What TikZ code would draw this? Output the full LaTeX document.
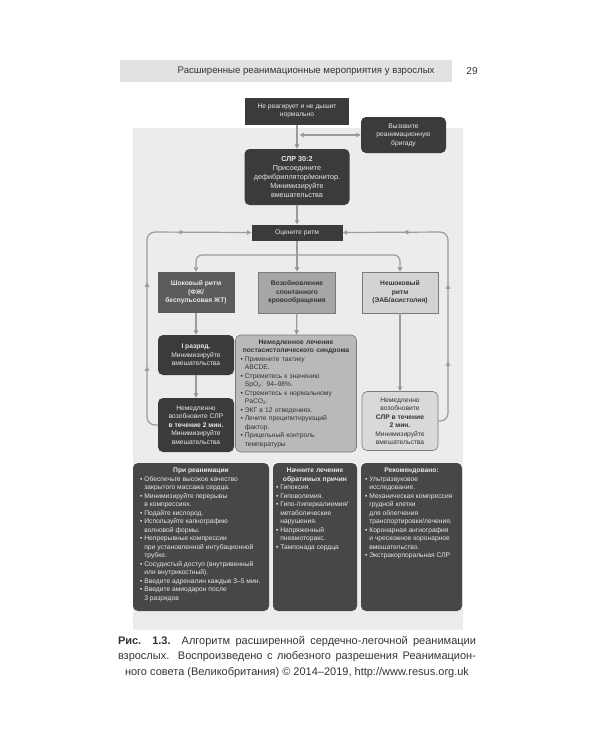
\documentclass[tikz,border=0pt]{standalone}
\usepackage{fontspec}
\setmainfont{Liberation Sans}
\usetikzlibrary{arrows.meta,decorations.markings}

\definecolor{cDark}{HTML}{3B3B3B}
\definecolor{cShock}{HTML}{5C5C5C}
\definecolor{cRosc}{HTML}{A6A6A6}
\definecolor{cNonShock}{HTML}{D3D3D3}
\definecolor{cPost}{HTML}{B9B9B9}
\definecolor{cLight}{HTML}{D9D9D9}
\definecolor{cBottom}{HTML}{474747}
\definecolor{cPanel}{HTML}{ECECEC}
\definecolor{cHeader}{HTML}{E2E2E2}
\definecolor{cArrow}{HTML}{9C9C9C}
\definecolor{cEdge}{HTML}{7A7A7A}
\definecolor{cText}{HTML}{E8E8E8}
\definecolor{cInk}{HTML}{333333}

\newcommand{\boxfont}{\fontsize{6.7}{8.5}\selectfont}
\newcommand{\itm}[1]{\par\hangindent=0.65em\hangafter=1\noindent\makebox[0.65em][l]{\textbullet}#1\par}
\newcommand{\boxhead}[1]{{\centering\textbf{#1}\par}}
\newcommand{\topbox}[3]{\parbox[t][#2][t]{#1}{\raggedright#3}}

\tikzset{
  flow/.style={draw=cArrow,line width=1.2pt,->},
  darkbox/.style={fill=cDark,text=cText,align=center,font=\boxfont,inner sep=1pt},
  shockbox/.style={fill=cShock,text=cText,align=center,font=\boxfont\bfseries,inner sep=1pt},
  greybox/.style={fill=#1,draw=cEdge,line width=0.6pt,text=cInk,align=center,font=\boxfont,inner sep=1pt},
  bottombox/.style={fill=cBottom,text=cText,font=\boxfont,rounded corners=5pt,inner xsep=#1,inner ysep=5pt}
}

\begin{document}
\begin{tikzpicture}[x=1pt,y=-1pt,>={Triangle[length=4.5pt,width=4.5pt]}]
\useasboundingbox (0,0) rectangle (600,750);

% page head and grey panel
\fill[cHeader] (120,60) rectangle (452,82);
\node[anchor=east,text=cInk,font=\fontsize{9.6}{12}\selectfont] (head) at (438,71)
  {Расширенные реанимационные мероприятия у взрослых};
\node[text=cInk,font=\fontsize{10}{12}\selectfont] (page) at (472,71) {29};
\fill[cPanel] (133,128) rectangle (463,630);

% upper part
\node[darkbox,minimum width=104,minimum height=27] (top) at (297,111)
  {Не реагирует и не дышит\\нормально};
\node[darkbox,rounded corners=5pt,minimum width=85,minimum height=36] (team) at (403.5,135)
  {Вызовите\\реанимационную\\бригаду};
\node[darkbox,rounded corners=5pt,minimum width=105,minimum height=56,
  font=\fontsize{7.2}{9.2}\selectfont] (cpr) at (297,177)
  {\textbf{СЛР 30:2}\\Присоедините\\дефибриллятор/монитор.\\Минимизируйте\\вмешательства};
\node[darkbox,minimum width=91,minimum height=16] (rhythm) at (297,232.5) {Оцените ритм};

% three rhythms
\node[shockbox,minimum width=77,minimum height=41] (shock) at (196,292.5)
  {Шоковый ритм\\(ФЖ/\\беспульсовая ЖТ)};
\node[greybox=cRosc,font=\boxfont\bfseries,minimum width=77,minimum height=41] (rosc) at (297,292.5)
  {Возобновление\\спонтанного\\кровообращения};
\node[greybox=cNonShock,font=\boxfont\bfseries,minimum width=76,minimum height=41] (nonshock) at (400,292.5)
  {Нешоковый\\ритм\\(ЭАБ/асистолия)};

\node[darkbox,rounded corners=5pt,minimum width=76,minimum height=40] (shockone) at (196,355)
  {\textbf{I разряд.}\\Минимизируйте\\вмешательства};
\node[darkbox,rounded corners=5pt,minimum width=76,minimum height=54] (lnow) at (196,425)
  {Немедленно\\возобновите СЛР\\\textbf{в течение 2 мин.}\\Минимизируйте\\вмешательства};
\node[greybox=cPost,rounded corners=5pt,minimum width=121,minimum height=117,
  text width=111,align=left,inner xsep=5pt] (post) at (296,393.5)
  {\boxhead{Немедленное лечение\\постасистолического синдрома}
   \itm{Примените тактику\newline ABCDE.}
   \itm{Стремитесь к значению\newline SpO\textsubscript{2}: 94–98\%.}
   \itm{Стремитесь к нормальному\newline PaCO\textsubscript{2}.}
   \itm{ЭКГ в 12 отведениях.}
   \itm{Лечите преципитирующий\newline фактор.}
   \itm{Прицельный контроль\newline температуры}};
\node[greybox=cLight,rounded corners=5pt,minimum width=76,minimum height=59] (rnow) at (400,421)
  {Немедленно\\возобновите\\\textbf{СЛР в течение}\\\textbf{2 мин.}\\Минимизируйте\\вмешательства};

% bottom boxes
\node[bottombox=7pt] (during) at (201,537)
  {\topbox{122pt}{138pt}{\boxhead{При реанимации}
   \itm{Обеспечьте высокое качество\newline закрытого массажа сердца.}
   \itm{Минимизируйте перерывы\newline в компрессиях.}
   \itm{Подайте кислород.}
   \itm{Используйте капнографию\newline волновой формы.}
   \itm{Непрерывные компрессии\newline при установленной интубационной\newline трубке.}
   \itm{Сосудистый доступ (внутривенный\newline или внутрикостный).}
   \itm{Введите адреналин каждые 3–5 мин.}
   \itm{Введите амиодарон после\newline 3 разрядов}}};
\node[bottombox=3pt] (causes) at (315,537)
  {\topbox{78pt}{138pt}{\boxhead{Начните лечение\\обратимых причин}
   \itm{Гипоксия.}
   \itm{Гиповолемия.}
   \itm{Гипо-/гиперкалиемия/\newline метаболические\newline нарушения.}
   \itm{Напряженный\newline пневмоторакс.}
   \itm{Тампонада сердца}}};
\node[bottombox=4pt] (consider) at (411.5,537)
  {\topbox{93pt}{138pt}{\boxhead{Рекомендовано:}
   \itm{Ультразвуковое\newline исследование.}
   \itm{Механическая компрессия\newline грудной клетки\newline для облегчения\newline транспортировки/лечения.}
   \itm{Коронарная ангиография\newline и чрескожное коронарное\newline вмешательство.}
   \itm{Экстракорпоральная СЛР}}};

% caption
\node[text=cInk,align=center,font=\fontsize{11}{15.5}\selectfont] (caption) at (297,657)
  {\hbox to 358pt{\textbf{Рис. 1.3.} Алгоритм расширенной сердечно-легочной реанимации}\\
   \hbox to 358pt{взрослых. Воспроизведено с любезного разрешения Реанимацион-}\\
   ного совета (Великобритания) © 2014–2019, http://www.resus.org.uk};

% connectors
\coordinate (split) at (297,255);
\coordinate (join) at (299.5,135);
\path[flow]
  (top) edge (cpr)
  (cpr) edge (rhythm)
  (rhythm) edge (rosc)
  (shock) edge (shockone)
  (shockone) edge (lnow)
  (rosc) edge (post)
  (nonshock) edge (rnow);
\draw[flow,<->] (join) -- (team.west);
\draw[flow,rounded corners=6pt] (split) -| (shock.north);
\draw[flow,rounded corners=6pt] (split) -| (nonshock.north);
\draw[flow,rounded corners=8pt,postaction={decorate},
  decoration={markings,mark=at position 66pt with {\arrow{>}},
    mark=at position 150pt with {\arrow{>}},mark=at position 234pt with {\arrow{>}}}]
  (lnow.west) -- (147,425) -- (147,232) -- (rhythm.west);
\draw[flow,rounded corners=8pt,postaction={decorate},
  decoration={markings,mark=at position 66pt with {\arrow{>}},
    mark=at position 143pt with {\arrow{>}},mark=at position 236pt with {\arrow{>}}}]
  (rnow.east) -- (448,421) -- (448,232) -- (rhythm.east);

\end{tikzpicture}
\end{document}
